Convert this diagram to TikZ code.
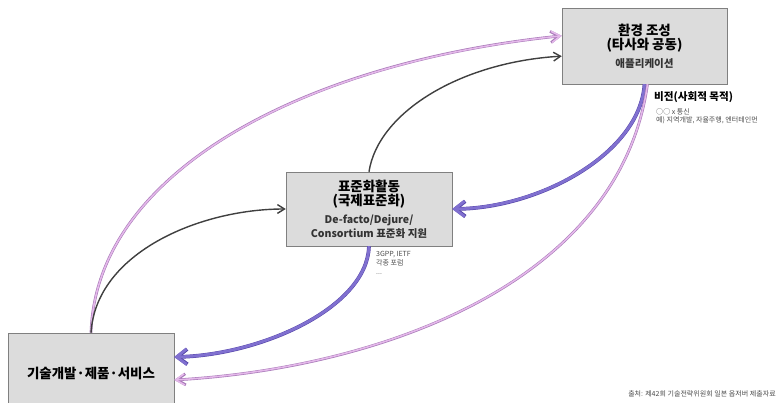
\documentclass[tikz,border=0pt]{standalone}
\usepackage{fontspec}
\setmainfont{Noto Sans CJK KR}
\usetikzlibrary{positioning,calc,arrows.meta,shadows}
\definecolor{boxgray}{HTML}{DCDCDC}
\definecolor{boxline}{HTML}{808080}
\definecolor{pinkedge}{HTML}{A87AB8}
\definecolor{pinkfill}{HTML}{E4B8EA}
\definecolor{violetedge}{HTML}{5646A8}
\definecolor{violetfill}{HTML}{8070D0}
\definecolor{darkline}{HTML}{404040}
\newcommand{\boxtitle}{\fontsize{11.5}{14}\selectfont\bfseries}
\newcommand{\boxsub}{\fontsize{9}{11.5}\selectfont\bfseries\color{black!80}}
\tikzset{block/.style={rectangle,draw=boxline,fill=boxgray,align=center,
                       drop shadow={shadow xshift=1.2pt,shadow yshift=-1.2pt,fill=black!45}},
         pinkarc/.style={-{Straight Barb[length=7.5pt,width=9.5pt]},draw=pinkfill,line width=1.3pt,
                         preaction={draw=pinkedge,line width=2.3pt}},
         violetarc/.style={-{Straight Barb[length=8.5pt,width=13pt]},draw=violetfill,line width=2.4pt,
                           preaction={draw=violetedge,line width=3.2pt}},
         greyarc/.style={-{Straight Barb[length=6pt,width=7.5pt]},draw=darkline,line width=1.2pt},
         note/.style={font=\fontsize{6}{7.5}\selectfont,text=black!70,align=left,inner sep=0pt}
}

\begin{document}
\begin{tikzpicture}[x=0.03cm,y=0.03cm]
  \useasboundingbox (0,0) rectangle (778,403);
  % boxes
  \node[block, minimum width=4.95cm, minimum height=2.28cm] (env) at (644.5,357)
       {{\boxtitle 환경 조성}\\{\boxtitle (타사와 공동)}\\[3pt]{\boxsub 애플리케이션}};
  \node[block, minimum width=4.98cm, minimum height=2.22cm] (std) at (369,194)
       {{\boxtitle 표준화활동}\\{\boxtitle (국제표준화)}\\[3pt]{\boxsub De-facto/Dejure/}\\{\boxsub Consortium 표준화 지원}};
  \node[block, minimum width=4.98cm, minimum height=2.4cm] (dev) at (91,30)
       {\boxtitle 기술개발·제품·서비스};
  % notes
  \node[anchor=west, font=\fontsize{9}{10}\selectfont\bfseries, inner sep=0pt] (vision) at (654,306) {비전(사회적 목적)};
  \node[note, anchor=north west] (visionnote) at (656,295) {○○ x 통신\\예) 지역개발, 자율주행, 엔터테인먼};
  \node[note, anchor=north west] (stdnote) at (376,152) {3GPP, IETF\\각종 포럼\\...};
  \node[note, anchor=east] (source) at (776,9) {출처: 제42회 기술전략위원회 일본 옵저버 제출자료};
  % arcs
  \draw[pinkarc] (dev.north) .. controls +(5,160) and +(-260,-27) .. (env.173);
  \draw[greyarc] (std.north) .. controls +(9,59) and +(-102,-6) .. (env.187);
  \draw[greyarc] (dev.north) .. controls +(5,80) and +(-86,0) .. (std.west);
  \draw[violetarc] (env.south) .. controls +(-4.5,-69) and +(88,1) .. (std.east);
  \draw[violetarc] (std.south) .. controls +(-2,-62) and +(86,2) .. ($(dev.east)+(0,16)$);
  \draw[pinkarc] ($(env.south)+(3,0)$) .. controls +(-28,-199) and +(206,12) .. ($(dev.east)+(0,-7)$);
\end{tikzpicture}
\end{document}
